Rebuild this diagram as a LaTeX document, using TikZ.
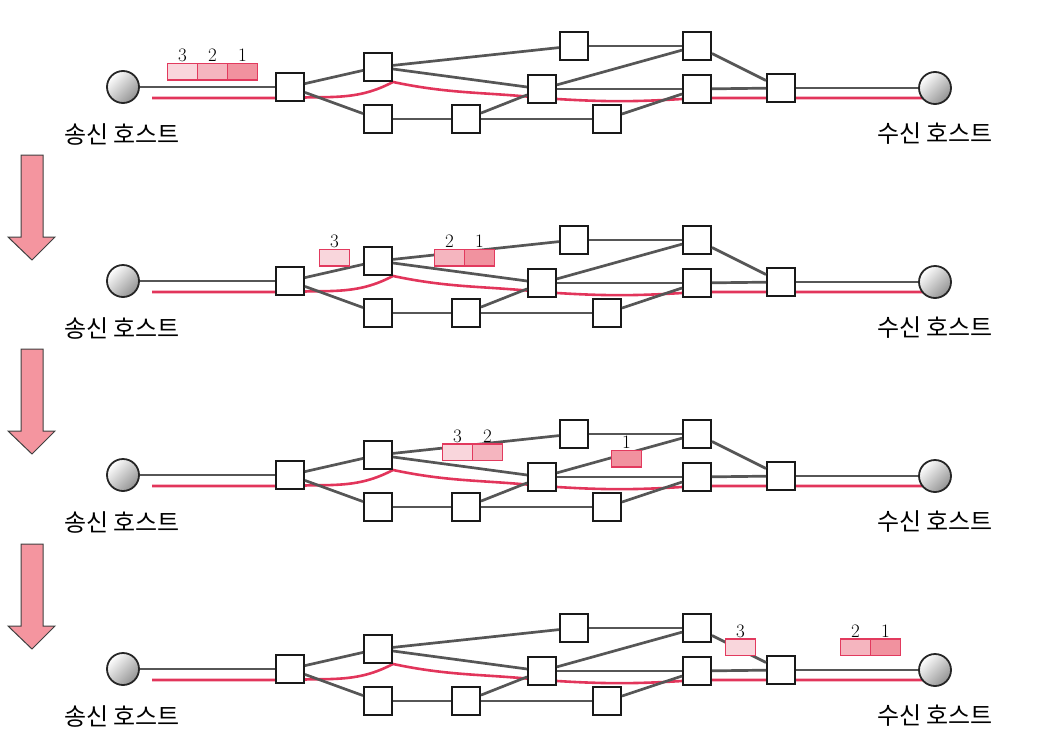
\documentclass[tikz,border=0pt]{standalone}
\usepackage{fontspec}
\newfontfamily\krfont{Noto Sans CJK KR}
\usetikzlibrary{backgrounds}

\definecolor{linkgray}{HTML}{565656}
\definecolor{pathred}{HTML}{E2355B}
\definecolor{pktedge}{HTML}{E23A5E}
\definecolor{pktdark}{HTML}{F1929F}
\definecolor{pktmid}{HTML}{F5B5BF}
\definecolor{pktlight}{HTML}{F9D6DC}
\definecolor{arrowpink}{HTML}{F4959F}

\tikzset{
	router/.style={draw=black!90, fill=white, line width=2.4pt, minimum size=27.5pt, inner sep=0pt},
	host/.style={circle, draw=black!85, line width=1.8pt, minimum size=32pt, inner sep=0pt,
		top color=white, bottom color=gray!85, shading angle=45},
	link/.style={linkgray, line width=2.7pt},
	redpath/.style={pathred, line width=2.6pt},
	pkt/.style={draw=pktedge, line width=1.5pt, minimum width=30pt, minimum height=16.5pt, inner sep=0pt},
	num/.style={font=\fontsize{19}{19}\selectfont, label distance=-3pt},
	hostname/.style={font=\krfont\fontsize{24}{24}\selectfont},
	downarrow/.style={fill=arrowpink, draw=black!75, line width=1pt, line join=miter}
}

\begin{document}
\begin{tikzpicture}[x=1pt, y=-1pt]
	\useasboundingbox (0,0) rectangle (1042,747);
	
	\foreach \t in {155, 349, 544}
	\draw[downarrow] (21,\t) -- (43,\t) -- (43,{\t+82}) -- (55,{\t+82}) -- (32,{\t+105})
		-- (8,{\t+82}) -- (21,{\t+82}) -- cycle;
	
	\foreach \p [evaluate=\p as \oy using 194*(\p-1)] in {1,2,3,4} {
	\begin{scope}[yshift=-\oy pt]
		\node[host] (src-\p) at (123,87) {};
		\node[host] (dst-\p) at (935,88) {};
		\node[hostname] (srcname-\p) at (122,134) {송신 호스트};
		\node[hostname] (dstname-\p) at (935,134) {수신 호스트};
		
		\node[router] (r1-\p) at (290,87) {};
		\node[router] (r2-\p) at (378,67) {};
		\node[router] (r3-\p) at (378,119) {};
		\node[router] (r4-\p) at (466,119) {};
		\node[router] (r5-\p) at (542,89) {};
		\node[router] (r6-\p) at (574,46) {};
		\node[router] (r7-\p) at (697,46) {};
		\node[router] (r8-\p) at (697,89) {};
		\node[router] (r9-\p) at (607,119) {};
		\node[router] (r10-\p) at (781,88) {};
		\coordinate (start-\p) at (152,98);
		
		\foreach \u/\v in {src/r1, r1/r2, r1/r3, r2/r6, r2/r5, r3/r4, r4/r5, r4/r9,
			r6/r7, r5/r7, r5/r8, r9/r8, r7/r10, r8/r10, r10/dst}
		\draw[link] (\u-\p) -- (\v-\p);
		
		\begin{scope}[on background layer]
			\draw[redpath] (start-\p) -- ([yshift=-11pt]r1-\p.center)
				to[out=3, in=208] (r2-\p.south east)
				to[out=-12, in=174] ([yshift=-9pt]r5-\p.center)
				to[out=-4, in=184] ([yshift=-9pt]r8-\p.center)
				-- ([yshift=-10pt]r10-\p.center) -- ([yshift=-10pt]dst-\p.center);
		\end{scope}
	\end{scope}
	}
	
	\node[pkt, fill=pktlight, label={[num]above:3}] (pk3-1) at (182.5,71.5) {};
	\node[pkt, fill=pktmid, label={[num]above:2}] (pk2-1) at (212.5,71.5) {};
	\node[pkt, fill=pktdark, label={[num]above:1}] (pk1-1) at (242.5,71.5) {};
	
	\node[pkt, fill=pktlight, label={[num]above:3}] (pk3-2) at (334.5,257.5) {};
	\node[pkt, fill=pktmid, label={[num]above:2}] (pk2-2) at (449.5,257.5) {};
	\node[pkt, fill=pktdark, label={[num]above:1}] (pk1-2) at (479.5,257.5) {};
	
	\node[pkt, fill=pktlight, label={[num]above:3}] (pk3-3) at (457.5,452) {};
	\node[pkt, fill=pktmid, label={[num]above:2}] (pk2-3) at (487.5,452) {};
	\node[pkt, fill=pktdark, label={[num]above:1}] (pk1-3) at (626.5,458.5) {};
	
	\node[pkt, fill=pktlight, label={[num]above:3}] (pk3-4) at (740.5,647) {};
	\node[pkt, fill=pktmid, label={[num]above:2}] (pk2-4) at (855.5,647) {};
	\node[pkt, fill=pktdark, label={[num]above:1}] (pk1-4) at (885.5,647) {};
\end{tikzpicture}
\end{document}
